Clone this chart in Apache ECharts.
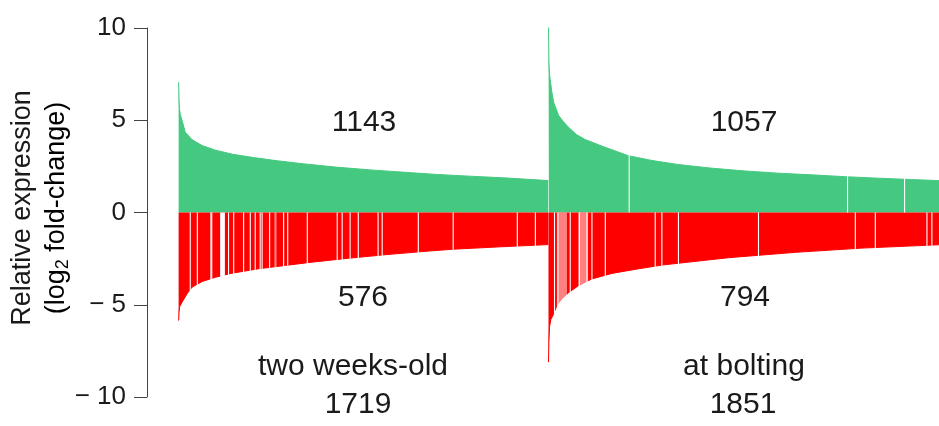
<!DOCTYPE html>
<html>
<head>
<meta charset="utf-8">
<title>Relative expression</title>
<script src="https://cdn.jsdelivr.net/npm/echarts@6/dist/echarts.min.js"></script>
<style>
  html, body { margin: 0; padding: 0; background: #fff; }
  #chart { width: 939px; height: 426px; }
</style>
</head>
<body>
<div id="chart"></div>
<script>
// gene rank on x (panel 1 = 0..1718, panel 2 = 1719..3569), log2 fold-change on y
const upX1 = [0, 2, 4, 8, 16, 31, 62, 109, 171, 250, 347, 460, 579, 730, 891, 1050, 1202, 1350, 1509, 1718]
const upY1 = [7.06, 6.1, 5.62, 5.3, 4.99, 4.35, 3.95, 3.63, 3.38, 3.16, 2.98, 2.80, 2.64, 2.46, 2.31, 2.18, 2.06, 1.97, 1.88, 1.73]
const downX1 = [0, 2, 5, 16, 39, 62, 109, 171, 248, 372, 496, 620, 790, 968, 1130, 1276, 1495, 1718]
const downY1 = [-5.86, -5.4, -5.1, -4.86, -4.41, -4.05, -3.74, -3.51, -3.29, -3.05, -2.87, -2.69, -2.48, -2.28, -2.12, -1.99, -1.86, -1.74]

const upX2 = [1719, 1721, 1724, 1727, 1735, 1743, 1766, 1790, 1812, 1850, 1890, 1967, 2090, 2200, 2322, 2470, 2633, 2790, 2943, 3100, 3251, 3400, 3530, 3570]
const upY2 = [10.28, 8.2, 7.5, 7.2, 6.5, 5.98, 5.26, 4.9, 4.62, 4.22, 3.95, 3.6, 3.08, 2.82, 2.6, 2.41, 2.25, 2.13, 2.04, 1.94, 1.86, 1.79, 1.73, 1.71]
const downX2 = [1719, 1721, 1724, 1730, 1743, 1758, 1781, 1812, 1859, 1921, 2014, 2138, 2246, 2339, 2556, 2866, 3176, 3532, 3570]
const downY2 = [-8.11, -7.0, -6.2, -5.8, -5.5, -5.04, -4.68, -4.35, -3.96, -3.60, -3.30, -3.05, -2.85, -2.73, -2.45, -2.16, -1.93, -1.75, -1.74]

// genes with no value in the sorted run (white slits)
const downGaps1 = [54, 87, 150, 154, 232, 256, 302, 333, 356, 379, 388, 423, 488, 507, 598, 737, 760, 797, 835, 927, 946, 1114, 1276, 1574, 1658]
const downGaps2 = [1747, 1763, 1820, 1863, 1898, 1921, 1983, 2215, 2246, 2323, 2695, 3145, 3238, 3478, 3501]
const upGaps2 = [2094, 3109, 3374]
// wider empty runs
const wideGaps1 = [[193, 215]]
// dense slit runs that read as a pale band
const paleBands1 = [[445, 455]]
const paleBands2 = [[1758, 1805], [1857, 1903]]

const upCounts = ['1143', '1057']
const downCounts = ['576', '794']
const stages = ['two weeks-old', 'at bolting']
const totals = ['1719', '1851']
const yTicks = [-10, -5, 0, 5, 10]

const GREEN = '#45c980'
const RED = '#ff0000'
const FONT = 'Liberation Sans, Arial, sans-serif'
const INK = '#1a1a1a'

function zip (xs, ys) {
  return xs.map((x, i) => [x, ys[i]])
}

function areaSeries (xs, ys, color) {
  return {
    type: 'line',
    data: zip(xs, ys),
    symbol: 'none',
    showSymbol: false,
    silent: true,
    z: 2,
    lineStyle: { width: 1, color: color },
    itemStyle: { color: color },
    areaStyle: { color: color, opacity: 1 }
  }
}

// slits / bands drawn in white from 0 to the far edge of the bars
function slitSeries (items, sign, alpha) {
  return {
    type: 'custom',
    silent: true,
    z: 3,
    encode: { x: [0, 1], y: 2 },
    data: items.map(d => Array.isArray(d) ? [d[0], d[1], sign * 9.8] : [d, d, sign * 9.8]),
    renderItem: function (params, api) {
      let a = api.coord([api.value(0), 0])
      let b = api.coord([api.value(1), api.value(2)])
      let w = Math.max(b[0] - a[0], 1.1)
      let cx = (a[0] + b[0]) / 2
      return {
        type: 'rect',
        shape: { x: cx - w / 2, y: Math.min(a[1], b[1]), width: w, height: Math.abs(b[1] - a[1]) },
        style: { fill: '#fff', opacity: alpha }
      }
    }
  }
}

function label (text, x, y, size) {
  return {
    type: 'text',
    x: x,
    y: y,
    z: 100,
    style: {
      text: text,
      fill: INK,
      font: size + 'px ' + FONT,
      align: 'center',
      verticalAlign: 'middle',
      textAlign: 'center',
      textVerticalAlign: 'middle'
    }
  }
}

let myChart = echarts.init(document.getElementById('chart'))
myChart.setOption({
  animation: false,
  backgroundColor: '#fff',
  grid: { left: 147, right: 0, top: 28, bottom: 29, containLabel: false, outerBoundsMode: 'none' },
  xAxis: { type: 'value', min: -147, max: 3534, show: false },
  yAxis: {
    type: 'value',
    min: yTicks[0],
    max: yTicks[yTicks.length - 1],
    interval: 5,
    axisLine: { show: true, onZero: false, lineStyle: { color: '#444', width: 1 } },
    axisTick: { show: true, length: 13, lineStyle: { color: '#444', width: 1 } },
    axisLabel: {
      color: INK,
      fontSize: 26,
      fontFamily: FONT,
      margin: 21,
      formatter: v => v < 0 ? '\u2212 ' + Math.abs(v) : String(v)
    },
    splitLine: { show: false }
  },
  series: [
    areaSeries(upX1, upY1, GREEN),
    areaSeries(downX1, downY1, RED),
    areaSeries(upX2, upY2, GREEN),
    areaSeries(downX2, downY2, RED),
    slitSeries(downGaps1, -1, 1),
    slitSeries(wideGaps1, -1, 1),
    slitSeries(downGaps2, -1, 1),
    slitSeries(upGaps2, 1, 1),
    slitSeries(paleBands1, -1, 0.5),
    slitSeries(paleBands2, -1, 0.5)
  ],
  graphic: [
    label(upCounts[0], 364, 123, 30),
    label(upCounts[1], 744, 123, 30),
    label(downCounts[0], 363, 298, 30),
    label(downCounts[1], 745, 298, 30),
    label(stages[0], 353, 367, 30),
    label(stages[1], 744, 367, 30),
    label(totals[0], 358, 405, 30),
    label(totals[1], 743, 405, 30),
    Object.assign(label('Relative expression', 23, 208, 27), { rotation: Math.PI / 2 }),
    {
      type: 'text',
      x: 57,
      y: 208,
      z: 100,
      rotation: Math.PI / 2,
      style: {
        text: '{a|(log}{s|2}{a| fold-change)}',
        align: 'center',
        verticalAlign: 'middle',
        rich: {
          a: { fontSize: 27, fontFamily: FONT, color: INK, lineHeight: 30 },
          s: { fontSize: 18, fontFamily: FONT, color: INK, lineHeight: 18, verticalAlign: 'bottom' }
        }
      }
    }
  ]
})
</script>
</body>
</html>
